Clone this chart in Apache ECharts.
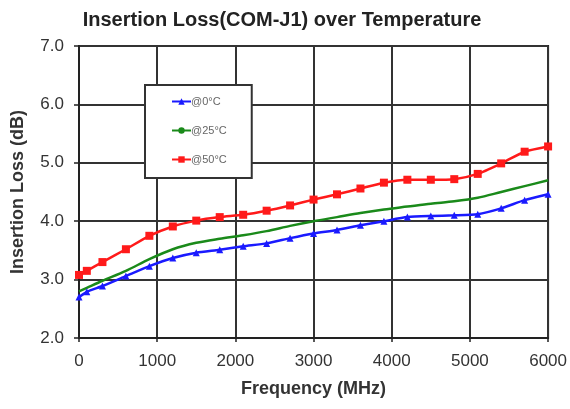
<!DOCTYPE html>
<html>
<head>
<meta charset="utf-8">
<script src="https://cdn.jsdelivr.net/npm/echarts@6/dist/echarts.min.js"></script>
<style>html,body{margin:0;padding:0;background:#fff;}#c{width:570px;height:409px;}</style>
</head>
<body>
<div id="c"></div>
<script>
const freqs = [0, 100, 300, 600, 900, 1200, 1500, 1800, 2100, 2400, 2700, 3000, 3300, 3600, 3900, 4200, 4500, 4800, 5100, 5400, 5700, 6000];
const loss0C  = [2.70, 2.79, 2.89, 3.06, 3.23, 3.37, 3.46, 3.51, 3.57, 3.62, 3.71, 3.79, 3.85, 3.93, 4.00, 4.07, 4.09, 4.10, 4.12, 4.22, 4.36, 4.46];
const loss25C = [2.80, 2.86, 2.98, 3.15, 3.35, 3.52, 3.63, 3.70, 3.76, 3.83, 3.92, 4.00, 4.07, 4.14, 4.20, 4.25, 4.30, 4.34, 4.40, 4.50, 4.60, 4.70];
const loss50C = [3.08, 3.15, 3.30, 3.52, 3.75, 3.91, 4.01, 4.07, 4.11, 4.18, 4.27, 4.37, 4.46, 4.56, 4.66, 4.71, 4.71, 4.72, 4.81, 4.99, 5.19, 5.28];
const seriesNames = ['@0°C', '@25°C', '@50°C'];
const xTicks = {min: 0, max: 6000, interval: 1000};
const yTicks = {min: 2, max: 7, interval: 1};

const pair = arr => freqs.map((f, i) => [f, arr[i]]);
const chart = echarts.init(document.getElementById('c'));
const font = 'Liberation Sans, Arial, sans-serif';
chart.setOption({
  animation: false,
  backgroundColor: '#fff',
  title: {
    text: 'Insertion Loss(COM-J1) over Temperature',
    left: 277, textAlign: 'center', top: 5,
    textStyle: {fontFamily: font, fontSize: 20, fontWeight: 'bold', color: '#222'}
  },
  grid: {left: 79, right: 21, top: 46, bottom: 71, show: true, borderColor: '#222', borderWidth: 2, backgroundColor: '#fff'},
  legend: {
    orient: 'vertical', left: 145, top: 85,
    data: seriesNames,
    backgroundColor: '#fff', borderColor: '#333', borderWidth: 2,
    padding: [11, 25, 13, 26],
    itemWidth: 19, itemHeight: 8, itemGap: 18,
    textStyle: {fontFamily: font, fontSize: 11, color: '#666', padding: [0, 0, 0, -5]}
  },
  xAxis: {
    type: 'value', min: xTicks.min, max: xTicks.max, interval: xTicks.interval,
    name: 'Frequency (MHz)', nameLocation: 'middle', nameGap: 42,
    nameTextStyle: {fontFamily: font, fontSize: 18, fontWeight: 'bold', color: '#333'},
    axisLine: {lineStyle: {color: '#222', width: 2}},
    axisTick: {show: true, length: 4, lineStyle: {color: '#222', width: 1.5}},
    axisLabel: {fontFamily: font, fontSize: 17, color: '#333', margin: 15, formatter: v => String(v)},
    splitLine: {show: true, lineStyle: {color: '#333', width: 2}}
  },
  yAxis: {
    type: 'value', min: yTicks.min, max: yTicks.max, interval: yTicks.interval,
    name: 'Insertion Loss (dB)', nameLocation: 'middle', nameGap: 52,
    nameTextStyle: {fontFamily: font, fontSize: 18, fontWeight: 'bold', color: '#333'},
    axisLine: {show: true, lineStyle: {color: '#222', width: 2}},
    axisTick: {show: true, length: 5, lineStyle: {color: '#222', width: 1.5}},
    axisLabel: {fontFamily: font, fontSize: 17, color: '#333', margin: 15, formatter: v => v.toFixed(1)},
    splitLine: {show: true, lineStyle: {color: '#333', width: 2}}
  },
  series: [
    {name: seriesNames[0], type: 'line', data: pair(loss0C), smooth: 0.2,
     symbol: 'triangle', symbolSize: 7, itemStyle: {color: '#1a1aff'}, lineStyle: {color: '#1a1aff', width: 2.5}},
    {name: seriesNames[1], type: 'line', data: pair(loss25C), smooth: 0.3,
     symbol: 'none', itemStyle: {color: '#1a8a1a'}, lineStyle: {color: '#1a8a1a', width: 2.5}},
    {name: seriesNames[2], type: 'line', data: pair(loss50C), smooth: 0.2,
     symbol: 'rect', symbolSize: 8, itemStyle: {color: '#ff1a1a'}, lineStyle: {color: '#ff1a1a', width: 2.5}}
  ]
});
</script>
</body>
</html>
